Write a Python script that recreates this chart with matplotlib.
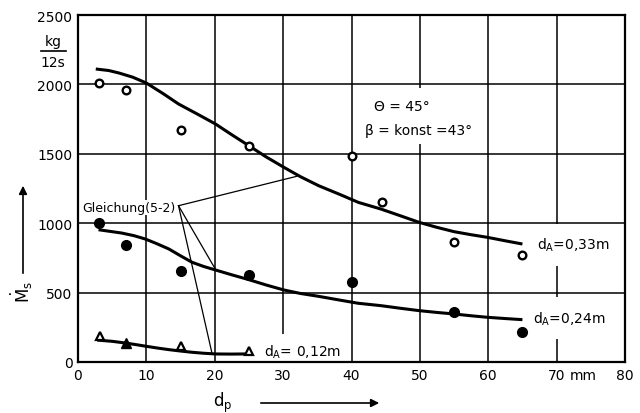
import matplotlib
matplotlib.use("Agg")
import matplotlib.pyplot as plt
from matplotlib.lines import Line2D
from matplotlib.patches import FancyArrowPatch

plt.rcParams['font.family'] = ['DejaVu Sans']
plt.rcParams['mathtext.default'] = 'regular'

# ---- data ----
# measured points, d_A = 0.33 m (open circles)
x_033 = [3, 7, 15, 25, 40, 44.5, 55, 65]
y_033 = [2010, 1960, 1672, 1556, 1482, 1150, 865, 773]
# measured points, d_A = 0.24 m (filled circles)
x_024 = [3, 7, 15, 25, 40, 55, 65]
y_024 = [1000, 843, 658, 627, 579, 357, 214]
# measured points, d_A = 0.12 m (triangles; the one at 7 mm is filled)
x_012_open = [3.2, 15, 25]
y_012_open = [186, 112, 80]
x_012_fill = [7]
y_012_fill = [137]

# curves "Gleichung (5-2)"
cx_033 = [2.6, 4.5, 6.0, 8.0, 10, 12.5, 14.7, 17.5, 20.1, 22.5, 25, 27.5, 30.1,
          32.5, 35.2, 38.4, 41, 44.3, 47, 49.9, 52.5, 55, 57.5, 59.9, 62.5, 65]
cy_033 = [2111, 2100, 2082, 2052, 2010, 1932, 1859, 1785, 1715, 1637, 1558, 1478, 1403,
          1336, 1270, 1205, 1150, 1102, 1056, 1006, 970, 939, 917, 898, 873, 850]
cx_024 = [3.0, 6.4, 8.2, 9.85, 11.5, 13.3, 15.0, 16.7, 18.4, 20.1, 22.5, 25, 27.5,
          30.1, 32.5, 35.2, 38.4, 41, 44.3, 47, 49.9, 52.5, 55, 57.5, 59.9, 62.5, 65]
cy_024 = [953, 929, 910, 886, 853, 814, 765, 718, 688, 663, 628, 593, 555,
          519, 494, 473, 445, 423, 406, 388, 370, 357, 346, 333, 322, 313, 305]
cx_012 = [2.8, 5.0, 6.9, 8.5, 10, 11.7, 13.3, 15.0, 16.7, 18.4, 20.1, 22.3, 24.5]
cy_012 = [158, 149, 137, 125, 113, 100, 89, 79, 70, 63, 58, 57, 58]

x_ticks = [0, 10, 20, 30, 40, 50, 60, 70, 80]
y_ticks = [0, 500, 1000, 1500, 2000, 2500]

# leader lines of "Gleichung(5-2)"
lead_origin = (14.7, 1126)
lead_ends_x = [32.0, 20.1, 19.6]
lead_ends_y = [1338, 668, 62]

fig = plt.figure(figsize=(6.4, 4.14), dpi=100)
ax = fig.add_axes([78/640, 1-363/414, (625-78)/640, (363-16)/414])
ax.set_xlim(0, 80)
ax.set_ylim(0, 2500)
ax.set_xticks(x_ticks)
ax.set_yticks(y_ticks)
ax.set_xticklabels([str(v) for v in x_ticks])
ax.set_yticklabels([str(v) for v in y_ticks])
ax.tick_params(length=0, labelsize=10, pad=4)
for s in ax.spines.values():
    s.set_linewidth(1.6)
    s.set_zorder(6)
ax.grid(True, color='black', linewidth=1.1)
ax.set_axisbelow(True)

k = 'black'
ax.plot(cx_033, cy_033, color=k, lw=2.2, solid_capstyle='butt', zorder=3)
ax.plot(cx_024, cy_024, color=k, lw=2.2, solid_capstyle='butt', zorder=3)
ax.plot(cx_012, cy_012, color=k, lw=2.2, solid_capstyle='butt', zorder=3)

ax.plot(x_033, y_033, 'o', ms=5.5, mfc='white', mec=k, mew=1.7, zorder=4)
ax.plot(x_024, y_024, 'o', ms=7, mfc=k, mec=k, zorder=4)
ax.plot(x_012_open, y_012_open, '^', ms=6, mfc='white', mec=k, mew=1.6, zorder=4)
ax.plot(x_012_fill, y_012_fill, '^', ms=6.5, mfc=k, mec=k, zorder=4)

for ex, ey in zip(lead_ends_x, lead_ends_y):
    ax.plot([lead_origin[0], ex], [lead_origin[1], ey], color=k, lw=0.9, zorder=3)

ax.text(0.6, 1114, 'Gleichung(5-2)', fontsize=9, va='center', ha='left',
        bbox=dict(facecolor='white', edgecolor='none', pad=0.5), zorder=2.5)

ax.text(43.3, 1845, 'Θ = 45°', fontsize=10, va='center', ha='left',
        bbox=dict(facecolor='white', edgecolor='none', pad=8), zorder=2.5)
ax.text(42.0, 1670, 'β = konst =43°', fontsize=10, va='center', ha='left',
        bbox=dict(facecolor='white', edgecolor='none', pad=5), zorder=2.5)
ax.text(67.2, 845, 'd$_A$=0,33m', fontsize=10, va='center', ha='left',
        bbox=dict(facecolor='white', edgecolor='none', pad=9), zorder=2.5)
ax.text(66.5, 318, 'd$_A$=0,24m', fontsize=10, va='center', ha='left',
        bbox=dict(facecolor='white', edgecolor='none', pad=9), zorder=2.5)
ax.text(27.2, 80, 'd$_A$= 0,12m', fontsize=10, va='center', ha='left',
        bbox=dict(facecolor='white', edgecolor='none', pad=6), zorder=2.5)

# axis unit and labels (figure coordinates)
fig.text(583/640, 1-376/414, 'mm', fontsize=10, ha='center', va='center')
fig.text(53/640, 1-42/414, 'kg', fontsize=10, ha='center', va='center')
fig.text(53/640, 1-63/414, '12s', fontsize=10, ha='center', va='center')
fig.add_artist(Line2D([41/640, 66/640], [1-52/414, 1-52/414], color=k, lw=1.2,
                      transform=fig.transFigure))

fig.text(22/640, 1-292/414, r'$\dot{M}_s$', fontsize=12, rotation=90,
         ha='center', va='center')
fig.add_artist(FancyArrowPatch(
    (23/640, 1-277/414), (23/640, 1-184/414), transform=fig.transFigure,
    arrowstyle='-|>', mutation_scale=12, color=k, lw=1.2))

fig.text(223/640, 1-403/414, 'd$_p$', fontsize=12, ha='center', va='center')
fig.add_artist(FancyArrowPatch(
    (258/640, 1-404/414), (382/640, 1-404/414), transform=fig.transFigure,
    arrowstyle='-|>', mutation_scale=12, color=k, lw=1.2))

fig.savefig('out.png', dpi=100)
